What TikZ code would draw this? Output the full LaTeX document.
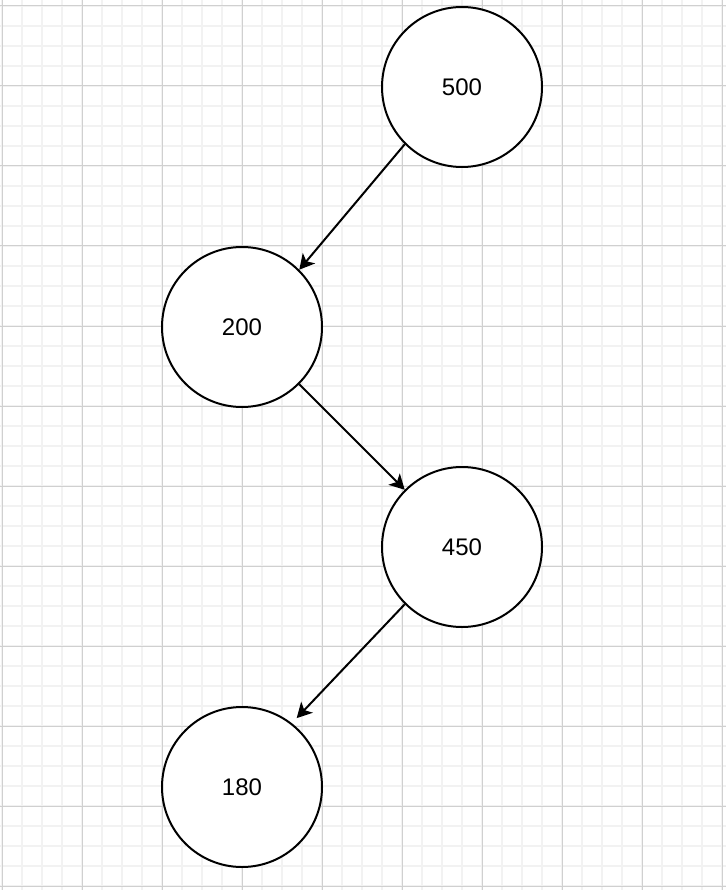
\documentclass[tikz,border=0pt]{standalone}
\usepackage{fontspec}
\setmainfont{Liberation Sans}
\usetikzlibrary{arrows.meta}
\definecolor{gridminor}{HTML}{F2F2F2}
\definecolor{gridmajor}{HTML}{D0D0D0}
\tikzset{
  treenode/.style={circle, draw=black, line width=2pt, minimum size=160pt,
    inner sep=0pt, fill=white, font=\fontsize{24pt}{28pt}\selectfont},
  link/.style={line width=2pt, -{Stealth[length=15pt,width=16pt,inset=4pt]}},
}
\begin{document}
\begin{tikzpicture}[x=1pt,y=-1pt]
  \useasboundingbox (0,0) rectangle (726,890);
  \fill[white] (0,0) rectangle (726,890);
  % minor grid, every 20 units
  \foreach \i in {0,...,36} {
    \draw[gridminor, line width=1.6pt] (2+20*\i,0) -- (2+20*\i,890);
  }
  \foreach \j in {0,...,44} {
    \draw[gridminor, line width=1.6pt] (0,6+20*\j) -- (726,6+20*\j);
  }
  % major grid, every 80 units
  \foreach \i in {0,...,9} {
    \draw[gridmajor, line width=1pt] (2+80*\i,0) -- (2+80*\i,890);
  }
  \foreach \j in {0,...,11} {
    \draw[gridmajor, line width=1pt] (0,6+80*\j) -- (726,6+80*\j);
  }
  % tree nodes
  \node[treenode] (n500) at (462,87)  {500};
  \node[treenode] (n200) at (242,327) {200};
  \node[treenode] (n450) at (462,547) {450};
  \node[treenode] (n180) at (242,787) {180};
  % edges
  \draw[link] (n500.-135) -- (n200.45);
  \draw[link] (n200.-45) -- (n450.135);
  \draw[link, shorten >=7pt] (n450.-135) -- (n180.52);
\end{tikzpicture}
\end{document}
